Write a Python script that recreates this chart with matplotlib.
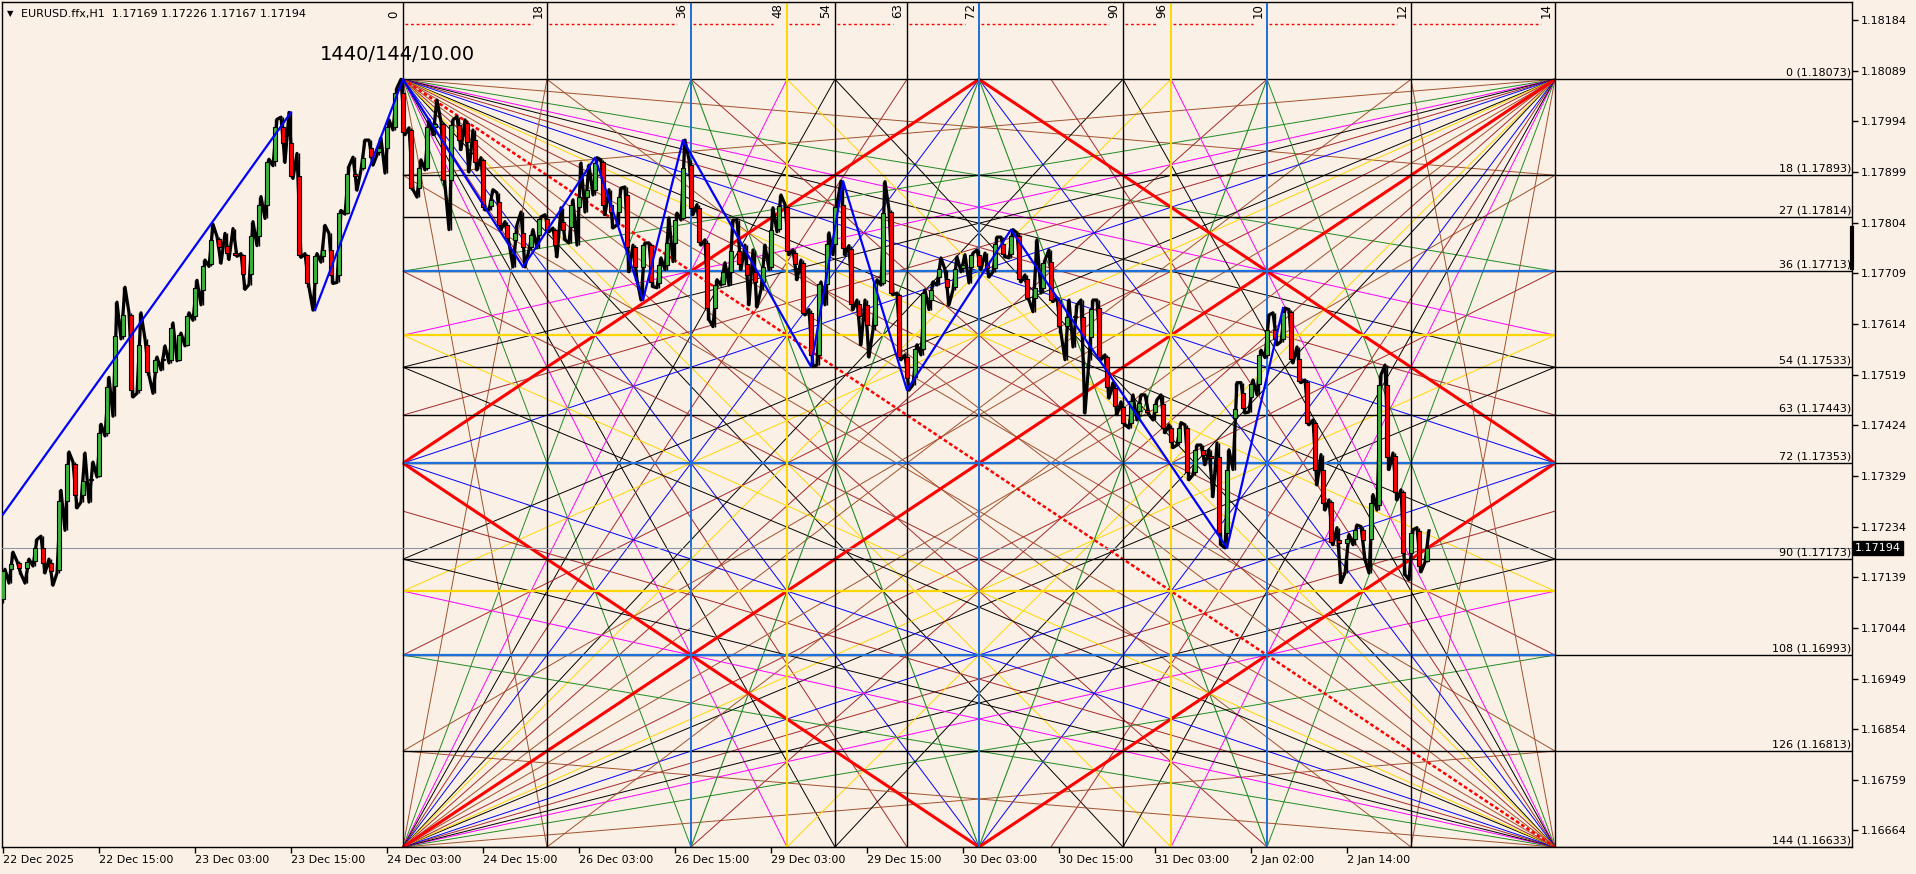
import numpy as np
import matplotlib.pyplot as plt
from matplotlib.transforms import blended_transform_factory

# ---- data -----------------------------------------------------------
opens = [
    1.17098, 1.17154, 1.17165, 1.17156, 1.17169, 1.17193, 1.17165, 1.17152, 1.17282, 1.17351,
    1.17293, 1.17321, 1.17329, 1.17409, 1.17498, 1.17591, 1.17631, 1.17490, 1.17575, 1.17524,
    1.17546, 1.17546, 1.17546, 1.17575, 1.17629, 1.17678, 1.17726, 1.17773, 1.17761, 1.17748,
    1.17744, 1.17707, 1.17780, 1.17838, 1.17919, 1.17983, 1.17953, 1.17891, 1.17743, 1.17690,
    1.17741, 1.17752, 1.17705, 1.17823, 1.17895, 1.17907, 1.17944, 1.17937, 1.17944, 1.17984,
    1.18048, 1.17978, 1.17869, 1.17907, 1.17984, 1.17989, 1.17884, 1.17987, 1.17991, 1.17959,
    1.17922, 1.17836, 1.17843, 1.17800, 1.17772, 1.17785, 1.17759, 1.17781, 1.17811, 1.17791,
    1.17806, 1.17796, 1.17834, 1.17852, 1.17866, 1.17918, 1.17838, 1.17824, 1.17856, 1.17759,
    1.17721, 1.17762, 1.17691, 1.17725, 1.17766, 1.17813, 1.17912, 1.17832, 1.17766, 1.17644,
    1.17689, 1.17712, 1.17751, 1.17727, 1.17712, 1.17693, 1.17721, 1.17793, 1.17834, 1.17747,
    1.17729, 1.17635, 1.17556, 1.17689, 1.17764, 1.17838, 1.17755, 1.17652, 1.17650, 1.17612,
    1.17691, 1.17824, 1.17669, 1.17552, 1.17515, 1.17567, 1.17659, 1.17702, 1.17699, 1.17684,
    1.17719, 1.17721, 1.17744, 1.17727, 1.17719, 1.17764, 1.17746, 1.17779, 1.17699, 1.17663,
    1.17682, 1.17731, 1.17659, 1.17611, 1.17627, 1.17627, 1.17590, 1.17644, 1.17552, 1.17494,
    1.17459, 1.17429, 1.17451, 1.17453, 1.17449, 1.17464, 1.17419, 1.17393, 1.17419, 1.17337,
    1.17378, 1.17367, 1.17365, 1.17222, 1.17438, 1.17485, 1.17477, 1.17502, 1.17556, 1.17603,
    1.17586, 1.17637, 1.17549, 1.17506, 1.17429, 1.17341, 1.17280, 1.17209, 1.17204, 1.17211,
    1.17228, 1.17211, 1.17275, 1.17500, 1.17367, 1.17299, 1.17185, 1.17226, 1.17169]
highs = [
    1.17154, 1.17186, 1.17169, 1.17173, 1.17210, 1.17216, 1.17173, 1.17302, 1.17374, 1.17355,
    1.17372, 1.17355, 1.17426, 1.17514, 1.17655, 1.17683, 1.17635, 1.17635, 1.17586, 1.17552,
    1.17573, 1.17616, 1.17597, 1.17635, 1.17696, 1.17734, 1.17801, 1.17778, 1.17784, 1.17793,
    1.17746, 1.17806, 1.17853, 1.17923, 1.17998, 1.18002, 1.18011, 1.17934, 1.17746, 1.17746,
    1.17799, 1.17784, 1.17827, 1.17910, 1.17927, 1.17959, 1.17959, 1.17963, 1.17997, 1.18057,
    1.18073, 1.17982, 1.17922, 1.17997, 1.18034, 1.17993, 1.17997, 1.18003, 1.17997, 1.17978,
    1.17926, 1.17866, 1.17860, 1.17806, 1.17800, 1.17824, 1.17791, 1.17815, 1.17819, 1.17794,
    1.17832, 1.17847, 1.17916, 1.17912, 1.17926, 1.17922, 1.17866, 1.17869, 1.17871, 1.17762,
    1.17766, 1.17766, 1.17738, 1.17813, 1.17822, 1.17959, 1.17922, 1.17838, 1.17772, 1.17697,
    1.17729, 1.17809, 1.17809, 1.17762, 1.17753, 1.17762, 1.17832, 1.17856, 1.17838, 1.17753,
    1.17734, 1.17641, 1.17693, 1.17785, 1.17838, 1.17882, 1.17761, 1.17659, 1.17659, 1.17697,
    1.17881, 1.17828, 1.17672, 1.17556, 1.17575, 1.17678, 1.17693, 1.17738, 1.17716, 1.17740,
    1.17744, 1.17747, 1.17753, 1.17747, 1.17777, 1.17777, 1.17791, 1.17785, 1.17706, 1.17772,
    1.17734, 1.17753, 1.17663, 1.17659, 1.17650, 1.17659, 1.17659, 1.17659, 1.17556, 1.17504,
    1.17468, 1.17481, 1.17481, 1.17481, 1.17472, 1.17481, 1.17425, 1.17429, 1.17425, 1.17387,
    1.17387, 1.17378, 1.17391, 1.17378, 1.17504, 1.17504, 1.17509, 1.17565, 1.17631, 1.17635,
    1.17644, 1.17641, 1.17571, 1.17509, 1.17434, 1.17369, 1.17284, 1.17232, 1.17219, 1.17237,
    1.17234, 1.17294, 1.17519, 1.17537, 1.17372, 1.17303, 1.17228, 1.17232, 1.17226]
lows = [
    1.17090, 1.17128, 1.17145, 1.17128, 1.17160, 1.17147, 1.17124, 1.17147, 1.17227, 1.17269,
    1.17280, 1.17280, 1.17327, 1.17404, 1.17441, 1.17586, 1.17477, 1.17484, 1.17518, 1.17484,
    1.17528, 1.17541, 1.17545, 1.17573, 1.17621, 1.17650, 1.17722, 1.17728, 1.17735, 1.17741,
    1.17679, 1.17688, 1.17761, 1.17812, 1.17911, 1.17917, 1.17887, 1.17739, 1.17683, 1.17640,
    1.17730, 1.17690, 1.17692, 1.17820, 1.17865, 1.17903, 1.17912, 1.17931, 1.17897, 1.17978,
    1.17969, 1.17866, 1.17852, 1.17903, 1.17969, 1.17875, 1.17791, 1.17941, 1.17899, 1.17903,
    1.17828, 1.17828, 1.17791, 1.17766, 1.17721, 1.17721, 1.17753, 1.17757, 1.17787, 1.17740,
    1.17772, 1.17766, 1.17762, 1.17824, 1.17856, 1.17819, 1.17794, 1.17800, 1.17712, 1.17697,
    1.17659, 1.17684, 1.17682, 1.17716, 1.17731, 1.17809, 1.17819, 1.17762, 1.17622, 1.17609,
    1.17687, 1.17687, 1.17716, 1.17650, 1.17646, 1.17678, 1.17716, 1.17787, 1.17744, 1.17697,
    1.17631, 1.17534, 1.17537, 1.17650, 1.17744, 1.17744, 1.17641, 1.17575, 1.17552, 1.17603,
    1.17687, 1.17669, 1.17547, 1.17490, 1.17500, 1.17556, 1.17641, 1.17687, 1.17650, 1.17678,
    1.17712, 1.17691, 1.17716, 1.17702, 1.17712, 1.17740, 1.17738, 1.17693, 1.17659, 1.17637,
    1.17672, 1.17656, 1.17597, 1.17547, 1.17571, 1.17447, 1.17547, 1.17547, 1.17475, 1.17444,
    1.17425, 1.17419, 1.17434, 1.17444, 1.17434, 1.17410, 1.17382, 1.17387, 1.17322, 1.17331,
    1.17350, 1.17290, 1.17200, 1.17194, 1.17341, 1.17447, 1.17449, 1.17481, 1.17551, 1.17575,
    1.17581, 1.17541, 1.17504, 1.17425, 1.17312, 1.17265, 1.17200, 1.17129, 1.17147, 1.17200,
    1.17172, 1.17147, 1.17265, 1.17341, 1.17284, 1.17144, 1.17134, 1.17149, 1.17167]
closes = [
    1.17150, 1.17163, 1.17156, 1.17167, 1.17193, 1.17165, 1.17150, 1.17282, 1.17351, 1.17293,
    1.17319, 1.17323, 1.17409, 1.17496, 1.17591, 1.17631, 1.17490, 1.17575, 1.17524, 1.17546,
    1.17548, 1.17606, 1.17593, 1.17629, 1.17681, 1.17723, 1.17771, 1.17758, 1.17748, 1.17744,
    1.17707, 1.17780, 1.17838, 1.17917, 1.17983, 1.17953, 1.17891, 1.17743, 1.17690, 1.17741,
    1.17752, 1.17705, 1.17823, 1.17895, 1.17891, 1.17926, 1.17928, 1.17944, 1.17984, 1.18048,
    1.17974, 1.17869, 1.17907, 1.17984, 1.17989, 1.17884, 1.17987, 1.17959, 1.17956, 1.17918,
    1.17834, 1.17847, 1.17800, 1.17776, 1.17785, 1.17759, 1.17781, 1.17811, 1.17791, 1.17762,
    1.17791, 1.17838, 1.17852, 1.17866, 1.17916, 1.17838, 1.17824, 1.17852, 1.17759, 1.17721,
    1.17762, 1.17693, 1.17725, 1.17766, 1.17809, 1.17907, 1.17832, 1.17768, 1.17644, 1.17687,
    1.17712, 1.17751, 1.17727, 1.17706, 1.17693, 1.17721, 1.17791, 1.17836, 1.17751, 1.17727,
    1.17635, 1.17556, 1.17689, 1.17764, 1.17834, 1.17757, 1.17652, 1.17629, 1.17612, 1.17691,
    1.17822, 1.17672, 1.17552, 1.17513, 1.17567, 1.17672, 1.17678, 1.17717, 1.17684, 1.17717,
    1.17725, 1.17744, 1.17723, 1.17719, 1.17764, 1.17746, 1.17779, 1.17699, 1.17663, 1.17682,
    1.17729, 1.17659, 1.17611, 1.17627, 1.17629, 1.17590, 1.17642, 1.17552, 1.17496, 1.17460,
    1.17429, 1.17470, 1.17466, 1.17449, 1.17464, 1.17419, 1.17393, 1.17419, 1.17337, 1.17378,
    1.17369, 1.17363, 1.17222, 1.17341, 1.17455, 1.17457, 1.17502, 1.17556, 1.17603, 1.17586,
    1.17637, 1.17549, 1.17507, 1.17429, 1.17341, 1.17279, 1.17205, 1.17204, 1.17211, 1.17228,
    1.17209, 1.17279, 1.17500, 1.17365, 1.17299, 1.17185, 1.17222, 1.17160, 1.17194]

# zigzag swing points (bar index, price)
zz_first_bars = [0, 36]
zz_first_prices = [1.17257, 1.18011]
zz_bars = [39, 50, 65, 74, 80, 85, 101, 105, 113, 126, 153, 160]
zz_prices = [1.17640, 1.18073, 1.17721, 1.17926, 1.17659, 1.17959, 1.17534,
             1.17882, 1.17490, 1.17791, 1.17194, 1.17644]

time_labels = ['22 Dec 2025', '22 Dec 15:00', '23 Dec 03:00', '23 Dec 15:00',
               '24 Dec 03:00', '24 Dec 15:00', '26 Dec 03:00', '26 Dec 15:00',
               '29 Dec 03:00', '29 Dec 15:00', '30 Dec 03:00', '30 Dec 15:00',
               '31 Dec 03:00', '2 Jan 02:00', '2 Jan 14:00']
price_ticks = [1.18184, 1.18089, 1.17994, 1.17899, 1.17804, 1.17709, 1.17614,
               1.17519, 1.17424, 1.17329, 1.17234, 1.17139, 1.17044, 1.16949,
               1.16854, 1.16759, 1.16664]
last_price = 1.17194
header = 'EURUSD.ffx,H1  1.17169 1.17226 1.17167 1.17194'
box_title = '1440/144/10.00'

# horizontal price levels of the gann object
level_names = [0, 18, 27, 36, 54, 63, 72, 90, 108, 126, 144]
level_prices = [1.18073, 1.17893, 1.17814, 1.17713, 1.17533, 1.17443,
                1.17353, 1.17173, 1.16993, 1.16813, 1.16633]

# gann box
box_start = 50          # bar index of the box origin
box_top = 1.18073
box_step = 0.0001
time_levels = [0, 18, 36, 48, 54, 63, 72, 90, 96, 108, 126, 144]
# the chart frame cuts the three-digit labels, only two digits show
time_tags = ['0', '18', '36', '48', '54', '63', '72', '90', '96', '10', '12', '14']
fan_levels = [18, 36, 48, 54, 63, 72, 90, 96, 108, 126]
fan_colors = ['#A0522D', '#228B22', '#FF00FF', 'black', '#A52A2A',
              '#0000FF', 'black', '#FFD700', '#A52A2A', '#A0522D']
# green legs from the middle of the top/bottom edges
mid_legs = [(72, 0, 36, 144), (72, 0, 108, 144), (72, 144, 36, 0), (72, 144, 108, 0)]

BG = '#FAF0E6'
BLUE_GRID = '#1E6FD9'

fig = plt.figure(figsize=(19.16, 8.74), dpi=100, facecolor=BG)
ax = fig.add_axes([2 / 1916, 27 / 874, 1850 / 1916, 845 / 874], facecolor=BG)
n = len(closes)
x = np.arange(n)
ax.set_xlim(-0.125, 231.125)
ax.set_ylim(1.16633, 1.18218)


def bx(u):
    return box_start + u


def by(v):
    return box_top - v * box_step


def seg(u0, v0, u1, v1, **kw):
    ax.plot([bx(u0), bx(u1)], [by(v0), by(v1)], solid_capstyle='butt', **kw)


# fans from the four corners
for cu, cv in [(0, 0), (0, 144), (144, 0), (144, 144)]:
    su = 1 if cu == 0 else -1
    sv = 1 if cv == 0 else -1
    for lev, col in zip(fan_levels, fan_colors):
        seg(cu, cv, 144 - cu, cv + sv * lev, color=col, lw=0.7, zorder=1)
        seg(cu, cv, cu + su * lev, 144 - cv, color=col, lw=0.7, zorder=1)
for (u0, v0, u1, v1) in mid_legs:
    seg(u0, v0, u1, v1, color='#228B22', lw=0.8, zorder=1)

# diamond and diagonals
for (u0, v0, u1, v1) in [(0, 72, 72, 0), (72, 0, 144, 72), (144, 72, 72, 144),
                         (72, 144, 0, 72), (0, 144, 144, 0)]:
    seg(u0, v0, u1, v1, color='red', lw=2.2, zorder=2)
seg(0, 0, 144, 144, color='red', lw=1.8, ls=(0, (1.5, 1)), zorder=2)

# horizontal levels (black, to right edge) with labels
tr_right = blended_transform_factory(ax.transAxes, ax.transData)
for name, p in zip(level_names, level_prices):
    ax.plot([bx(0), 231.125], [p, p], color='black', lw=1, zorder=2)
    ax.text(0.9995, p + 0.00003, f'{name} ({p:.5f})', transform=tr_right,
            ha='right', va='bottom', fontsize=8, zorder=7)
for lev, col in [(36, BLUE_GRID), (72, BLUE_GRID), (108, BLUE_GRID),
                 (48, '#FFD700'), (96, '#FFD700')]:
    seg(0, lev, 144, lev, color=col, lw=1.6, zorder=2)

# vertical time lines with labels on top
vcolors = {36: BLUE_GRID, 72: BLUE_GRID, 108: BLUE_GRID, 48: '#FFD700', 96: '#FFD700'}
for t, tag in zip(time_levels, time_tags):
    ax.axvline(bx(t), color=vcolors.get(t, 'black'), lw=1.4 if t in vcolors else 1, zorder=2)
    ax.text(bx(t) - 0.3, 1.18188, tag, rotation=90, ha='right', va='bottom',
            fontsize=8.5, zorder=7)
for t0, t1 in zip(time_levels[:-1], time_levels[1:]):
    ax.plot([bx(t0) + 0.2, bx(t1) - 1.8], [1.18176, 1.18176], color='red',
            lw=1, ls=(0, (2, 2)), zorder=2)

# price path, wicks and candle bodies
px, py = [], []
for i in range(n):
    if closes[i] >= opens[i]:
        py += [lows[i], highs[i]]
    else:
        py += [highs[i], lows[i]]
    px += [i - 0.25, i + 0.25]
ax.plot(px, py, color='black', lw=2.3, zorder=4, solid_joinstyle='round')
ax.vlines(x, lows, highs, color='black', lw=1, zorder=4)
o = np.array(opens)
c = np.array(closes)
body_cols = np.where(c >= o, '#3CB43C', '#FF0000')
h = c - o
h = np.where(np.abs(h) < 0.000015, 0.000015, h)
ax.bar(x, h, bottom=o, width=0.62, color=body_cols, edgecolor='black',
       linewidth=0.8, zorder=5)

# zigzag
ax.plot(zz_first_bars, zz_first_prices, color='#0000FF', lw=1.6, zorder=6)
ax.plot(zz_bars, zz_prices, color='#0000FF', lw=1.6, zorder=6)

# last price line
ax.axhline(last_price, color='#8C96A5', lw=0.8, zorder=3)
ax.text(1.0015, last_price, f'{last_price:.5f}', transform=tr_right, ha='left',
        va='center', fontsize=8, color='white', zorder=8, clip_on=False,
        bbox=dict(boxstyle='square,pad=0.2', fc='black', ec='black'))
ax.plot([1.0, 1.0], [1.17719, 1.17794], transform=tr_right, color='black',
        lw=3, clip_on=False, zorder=8)

# texts
ax.text(39.6, 1.18119, box_title, fontsize=14, ha='left', va='center', zorder=7)
ax.text(0.0025, 0.986, '\u25BC', transform=ax.transAxes, fontsize=6,
        ha='left', va='center')
ax.text(0.0105, 0.986, header, transform=ax.transAxes, fontsize=8,
        ha='left', va='center')

# axes styling
ax.yaxis.tick_right()
ax.set_yticks(price_ticks)
ax.set_yticklabels([f'{p:.5f}' for p in price_ticks], fontsize=8)
ax.set_xticks(np.arange(len(time_labels)) * 12)
ax.set_xticklabels(time_labels, fontsize=8, ha='left')
ax.tick_params(axis='both', direction='out', length=4, width=1, color='black',
               pad=2)
for s in ax.spines.values():
    s.set_color('black')
    s.set_linewidth(1)

fig.savefig('out.png', dpi=100, facecolor=BG)
